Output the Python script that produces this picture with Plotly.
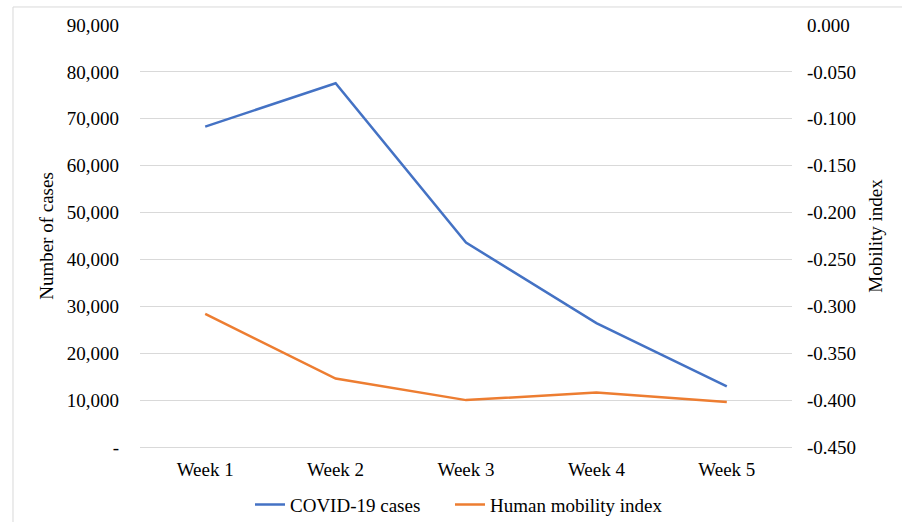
import plotly.graph_objects as go

weeks = ["Week 1", "Week 2", "Week 3", "Week 4", "Week 5"]
covid_cases = [68330, 77580, 43600, 26430, 12920]
mobility_index = [-0.308, -0.377, -0.400, -0.392, -0.402]

left_ticks = [0, 10000, 20000, 30000, 40000, 50000, 60000, 70000, 80000, 90000]
left_labels = ["-", "10,000", "20,000", "30,000", "40,000", "50,000", "60,000", "70,000", "80,000", "90,000"]
right_ticks = [0, -0.05, -0.1, -0.15, -0.2, -0.25, -0.3, -0.35, -0.4, -0.45]
right_labels = ["0.000", "-0.050", "-0.100", "-0.150", "-0.200", "-0.250", "-0.300", "-0.350", "-0.400", "-0.450"]

FONT = "Liberation Serif, Times New Roman, serif"
FS = 19

fig = go.Figure()
fig.add_trace(go.Scatter(x=weeks, y=covid_cases, mode="lines", name="COVID-19 cases",
                         line=dict(color="#4472C4", width=2.5), yaxis="y", legend="legend"))
fig.add_trace(go.Scatter(x=weeks, y=mobility_index, mode="lines", name="Human mobility index",
                         line=dict(color="#ED7D31", width=2.5), yaxis="y2", legend="legend2"))

legend_common = dict(orientation="h", xanchor="left", xref="paper",
                     y=0.033, yanchor="middle", yref="container",
                     font=dict(family=FONT, size=FS), itemwidth=30,
                     bgcolor="rgba(0,0,0,0)")

fig.update_layout(
    template="none",
    width=902, height=522,
    margin=dict(l=140, r=110, t=25, b=75, autoexpand=False),
    paper_bgcolor="white", plot_bgcolor="white",
    font=dict(family=FONT, size=FS, color="#000000"),
    showlegend=True,
    legend=dict(x=(250 - 140) / 652, **legend_common),
    legend2=dict(x=(450 - 140) / 652, **legend_common),
    xaxis=dict(range=[-0.5, 4.5], showgrid=False, showline=True, linecolor="#D9D9D9", linewidth=1,
               ticks="", tickfont=dict(family=FONT, size=FS), ticklabelstandoff=5,
               automargin=False, zeroline=False),
    yaxis=dict(range=[0, 90000], tickvals=left_ticks, ticktext=left_labels,
               showgrid=True, gridcolor="#D9D9D9", gridwidth=1, zeroline=False,
               ticks="", ticklabelstandoff=20, automargin=False, showline=False,
               title=dict(text="Number of cases", font=dict(family=FONT, size=FS), standoff=8)),
    yaxis2=dict(range=[-0.45, 0], tickvals=right_ticks, ticktext=right_labels,
                overlaying="y", side="right", showgrid=False, zeroline=False,
                ticks="", ticklabelstandoff=14, automargin=False, showline=False,
                title=dict(text="Mobility index", font=dict(family=FONT, size=FS), standoff=13)),
    shapes=[dict(type="rect", xref="paper", yref="paper", x0=-0.1948, x1=1.3, y0=-0.3, y1=1.0427,
                 line=dict(color="#D9D9D9", width=1), fillcolor="rgba(0,0,0,0)", layer="below")],
)

fig.write_html("out.html")
